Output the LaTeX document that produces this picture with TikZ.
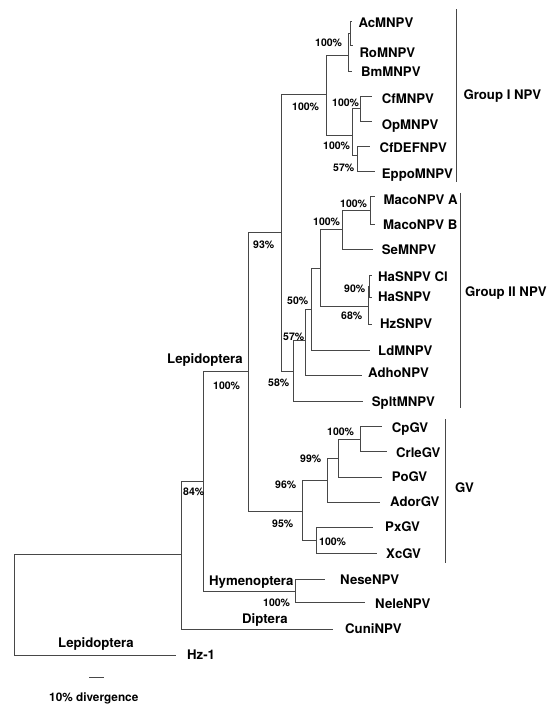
\documentclass[tikz,border=0pt]{standalone}
\usepackage{fontspec}
\setmainfont{TeX Gyre Heros}
\begin{document}
\begin{tikzpicture}[x=1pt,y=-1pt,
  branch/.style={draw=black!72, line width=0.8pt},
  cladebar/.style={draw=black!72, line width=0.8pt},
  taxon/.style={anchor=west, inner sep=0pt, text height=9.5pt, text depth=0pt,
    font=\fontsize{13.2}{15}\selectfont\bfseries},
  support/.style={anchor=west, inner sep=0pt, text height=7.6pt, text depth=0pt,
    font=\fontsize{10.5}{12}\selectfont\bfseries},
  legend/.style={anchor=west, inner sep=0pt, text height=8.6pt, text depth=0pt,
    font=\fontsize{11.8}{14}\selectfont\bfseries}]
\useasboundingbox (0,0) rectangle (549,708);

% internal nodes (x of the node, y where the parent branch joins)
\coordinate (root)    at (14,600);
\coordinate (n84)     at (181.7,554.3);
\coordinate (nLH)     at (203.3,481.7);
\coordinate (nHym)    at (295,591);
\coordinate (nLep)    at (248.3,371.7);
\coordinate (nNPV)    at (281.7,232.3);
\coordinate (nG1)     at (326,94.3);
\coordinate (nAcRoBm) at (348.3,55);
\coordinate (nAcRo)   at (350,33.3);
\coordinate (nCfE)    at (352.7,135);
\coordinate (nCfOp)   at (360.7,108.3);
\coordinate (nCfDE)   at (357.3,155);
\coordinate (nG2)     at (293.3,371.7);
\coordinate (n57)     at (305,340);
\coordinate (n50)     at (311,309.3);
\coordinate (nMSH)    at (320,268.3);
\coordinate (nMacoSe) at (342.7,229.3);
\coordinate (nMaco)   at (370.7,210.7);
\coordinate (nHa)     at (368.3,306);
\coordinate (nHaHa)   at (369.8,286);
\coordinate (nGV)     at (302.7,511);
\coordinate (nCpPoAd) at (327.3,480);
\coordinate (nCpPo)   at (338.3,458.3);
\coordinate (nCpCr)   at (360.7,439);
\coordinate (nPxXc)   at (316.7,540.7);

% branch tips
\coordinate (tAc)     at (351.7,21.7);
\coordinate (tRo)     at (353.3,45);
\coordinate (tBm)     at (351.7,71.7);
\coordinate (tCf)     at (371.7,96.7);
\coordinate (tOp)     at (371.7,121.7);
\coordinate (tCfDEF)  at (370,146.7);
\coordinate (tEppo)   at (375,171.7);
\coordinate (tMacoA)  at (375,196.7);
\coordinate (tMacoB)  at (375,224);
\coordinate (tSe)     at (373.3,249.3);
\coordinate (tHaCl)   at (371.5,275);
\coordinate (tHa)     at (371.5,297);
\coordinate (tHzS)    at (372,324);
\coordinate (tLd)     at (370,350);
\coordinate (tAdho)   at (361.7,375);
\coordinate (tSplt)   at (362.7,401.7);
\coordinate (tCp)     at (381.7,426);
\coordinate (tCrle)   at (386.7,451.7);
\coordinate (tPo)     at (381.7,477.3);
\coordinate (tAdor)   at (380,502.7);
\coordinate (tPx)     at (373.3,527.7);
\coordinate (tXc)     at (377.3,553.3);
\coordinate (tNese)   at (325,579.3);
\coordinate (tNele)   at (365,602.7);
\coordinate (tCuni)   at (333.3,629.3);
\coordinate (tHz1)    at (175.7,655.3);

% elbow branches
\foreach \a/\b in {root/n84, root/tHz1, n84/nLH, n84/tCuni, nLH/nLep, nLH/nHym,
    nHym/tNese, nHym/tNele, nLep/nNPV, nLep/nGV, nNPV/nG1, nNPV/nG2,
    nG1/nAcRoBm, nG1/nCfE, nAcRoBm/nAcRo, nAcRoBm/tBm, nAcRo/tAc, nAcRo/tRo,
    nCfE/nCfOp, nCfE/nCfDE, nCfOp/tCf, nCfOp/tOp, nCfDE/tCfDEF, nCfDE/tEppo,
    nG2/n57, nG2/tSplt, n57/n50, n57/tAdho, n50/nMSH, n50/tLd,
    nMSH/nMacoSe, nMSH/nHa, nMacoSe/nMaco, nMacoSe/tSe, nMaco/tMacoA, nMaco/tMacoB,
    nHa/nHaHa, nHa/tHzS, nHaHa/tHaCl, nHaHa/tHa,
    nGV/nCpPoAd, nGV/nPxXc, nCpPoAd/nCpPo, nCpPoAd/tAdor, nCpPo/nCpCr, nCpPo/tPo,
    nCpCr/tCp, nCpCr/tCrle, nPxXc/tPx, nPxXc/tXc}
  \draw[branch] (\a) |- (\b);

% taxon names
\node[taxon] (lAc)    at (358.3,22.7)  {AcMNPV};
\node[taxon] (lRo)    at (359.3,52.7)  {RoMNPV};
\node[taxon] (lBm)    at (361,71.7)    {BmMNPV};
\node[taxon] (lCf)    at (381.7,98.3)  {CfMNPV};
\node[taxon] (lOp)    at (381.7,125)   {OpMNPV};
\node[taxon] (lCfDEF) at (379.3,147.3) {CfDEFNPV};
\node[taxon] (lEppo)  at (381.7,173.3) {EppoMNPV};
\node[taxon] (lMacoA) at (383.3,200)   {MacoNPV A};
\node[taxon] (lMacoB) at (383,225)     {MacoNPV B};
\node[taxon] (lSe)    at (381.7,250)   {SeMNPV};
\node[taxon] (lHaCl)  at (378,277)     {HaSNPV Cl};
\node[taxon] (lHa)    at (378,296.7)   {HaSNPV};
\node[taxon] (lHzS)   at (380,324)     {HzSNPV};
\node[taxon] (lLd)    at (378,351)     {LdMNPV};
\node[taxon] (lAdho)  at (368,373)     {AdhoNPV};
\node[taxon] (lSplt)  at (371.7,401.7) {SpltMNPV};
\node[taxon] (lCp)    at (391.7,427.7) {CpGV};
\node[taxon] (lCrle)  at (396,452.3)   {CrleGV};
\node[taxon] (lPo)    at (391.7,476.7) {PoGV};
\node[taxon] (lAdor)  at (390,501.7)   {AdorGV};
\node[taxon] (lPx)    at (385,526.7)   {PxGV};
\node[taxon] (lXc)    at (386,554)     {XcGV};
\node[taxon] (lNese)  at (340,580)     {NeseNPV};
\node[taxon] (lNele)  at (375,604)     {NeleNPV};
\node[taxon] (lCuni)  at (345,629)     {CuniNPV};
\node[taxon] (lHz1)   at (187,655)     {Hz-1};

% host groups
\node[taxon] (hLep)   at (167,359)     {Lepidoptera};
\node[taxon] (hHym)   at (209,580.7)   {Hymenoptera};
\node[taxon] (hDip)   at (242,619)     {Diptera};
\node[taxon] (hLep2)  at (58,642.7)    {Lepidoptera};

% clade brackets
\coordinate (g1a) at (456.7,9.3);   \coordinate (g1b) at (456.7,181.7);
\coordinate (g2a) at (460,193);     \coordinate (g2b) at (460,408);
\coordinate (gva) at (445.7,419.3); \coordinate (gvb) at (445.7,562.7);
\draw[cladebar] (g1a) -- (g1b);
\draw[cladebar] (g2a) -- (g2b);
\draw[cladebar] (gva) -- (gvb);
\node[taxon] (cG1) at (463.3,95)    {Group I NPV};
\node[taxon] (cG2) at (465,291.7)   {Group II NPV};
\node[taxon] (cGV) at (455,488)     {GV};

% bootstrap support
\node[support] (s1)  at (315,43)     {100\%};
\node[support] (s2)  at (292,107)    {100\%};
\node[support] (s3)  at (332,103)    {100\%};
\node[support] (s4)  at (323,146)    {100\%};
\node[support] (s5)  at (333,168)    {57\%};
\node[support] (s6)  at (340,204)    {100\%};
\node[support] (s7)  at (313,221.7)  {100\%};
\node[support] (s8)  at (253,244.3)  {93\%};
\node[support] (s9)  at (344,289)    {90\%};
\node[support] (s10) at (287,300.7)  {50\%};
\node[support] (s11) at (341,316)    {68\%};
\node[support] (s12) at (283,337)    {57\%};
\node[support] (s13) at (268,383)    {58\%};
\node[support] (s14) at (213,385.7)  {100\%};
\node[support] (s15) at (183,491.7)  {84\%};
\node[support] (s16) at (327,431.7)  {100\%};
\node[support] (s17) at (300,458.3)  {99\%};
\node[support] (s18) at (275,485)    {96\%};
\node[support] (s19) at (272,524)    {95\%};
\node[support] (s20) at (319,541.7)  {100\%};
\node[support] (s21) at (263,602.7)  {100\%};

% scale bar
\coordinate (sbL) at (89.3,677.3);
\coordinate (sbR) at (104,677.3);
\draw[branch] (sbL) -- (sbR);
\node[legend] (sbText) at (49,696.7) {10\% divergence};
\end{tikzpicture}
\end{document}
